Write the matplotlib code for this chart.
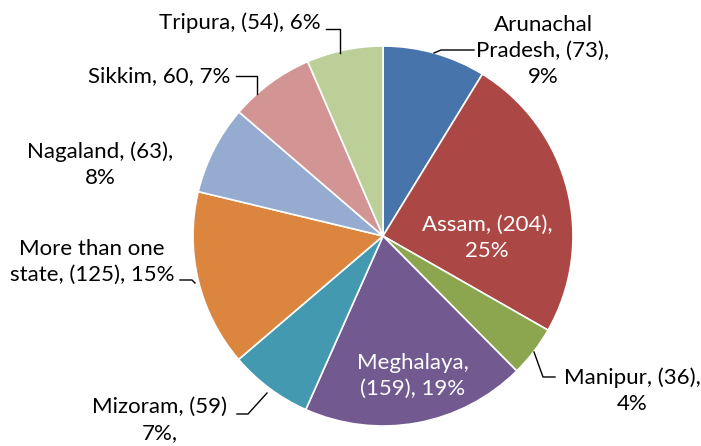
import matplotlib.pyplot as plt

states = ["Arunachal Pradesh", "Assam", "Manipur", "Meghalaya", "Mizoram",
          "More than one state", "Nagaland", "Sikkim", "Tripura"]
counts = [73, 204, 36, 159, 59, 125, 63, 60, 54]
labels = ["Arunachal\nPradesh, (73),\n9%", "Assam, (204),\n25%", "Manipur, (36),\n4%",
          "Meghalaya,\n(159), 19%", "Mizoram, (59)\n7%,", "More than one\nstate, (125), 15%",
          "Nagaland, (63),\n8%", "Sikkim, 60, 7%", "Tripura, (54), 6%"]
colors = ["#4674AB", "#AB4744", "#8BA64E", "#725A91", "#4399B0",
          "#DB853E", "#95ABD0", "#D39494", "#BCCF98"]

W, H = 701, 446
plt.rcParams["font.family"] = ["Lato", "DejaVu Sans"]
fig = plt.figure(figsize=(W / 100, H / 100), dpi=100)
ax = fig.add_axes([0, 0, 1, 1])

cx, cy, r = 383, H - 236, 190
ax.pie(counts, colors=colors, startangle=90, counterclock=False,
       center=(cx, cy), radius=r, frame=True,
       wedgeprops=dict(edgecolor="white", linewidth=1.2))
ax.set_xlim(0, W)
ax.set_ylim(0, H)
ax.set_aspect("equal")
ax.axis("off")


def py(y):
    return H - y


fs = 16
# label text: (x, y, ha, color)
place = {
    "Arunachal Pradesh": (543, 51, "center", "black"),
    "Assam": (487, 238, "center", "white"),
    "Manipur": (632, 391, "center", "black"),
    "Meghalaya": (413, 376, "center", "white"),
    "Mizoram": (160, 420, "center", "black"),
    "More than one state": (92, 262, "center", "black"),
    "Nagaland": (100, 165, "center", "black"),
    "Sikkim": (230, 76, "right", "black"),
    "Tripura": (321, 23, "right", "black"),
}
for name, lab in zip(states, labels):
    x, y, ha, c = place[name]
    ax.text(x, py(y), lab, ha=ha, va="center", color=c, fontsize=fs,
            linespacing=1.38, multialignment="center")

# leader lines
leaders = [
    [(326, 29), (340, 29), (340, 53)],
    [(434, 53), (441, 50), (474, 50)],
    [(236, 76), (257, 76), (257, 94)],
    [(180, 280), (192, 280), (195, 283)],
    [(237, 414), (248, 414), (267, 393)],
    [(534, 352), (543, 377), (555, 377)],
]
for pts in leaders:
    xs = [p[0] for p in pts]
    ys = [py(p[1]) for p in pts]
    ax.plot(xs, ys, color="black", lw=1)

plt.savefig("out.png", dpi=100)
